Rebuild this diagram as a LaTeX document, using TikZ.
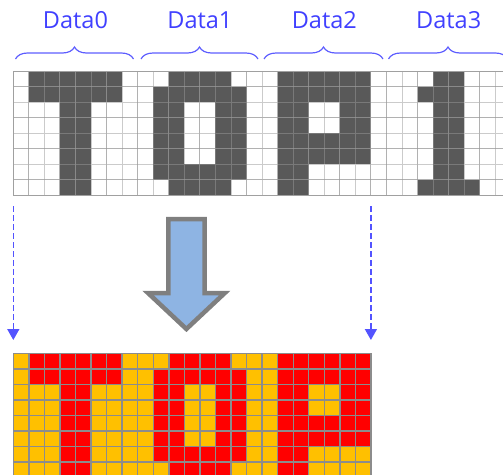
\documentclass[tikz,border=0pt]{standalone}
\usepackage{fontspec}
\setmainfont{Open Sans}
\usetikzlibrary{arrows.meta,decorations.pathreplacing}

\definecolor{pixdark}{HTML}{595959}
\definecolor{pixline}{HTML}{999999}
\definecolor{pixframe}{HTML}{A0A0A0}
\definecolor{ledred}{HTML}{FF0000}
\definecolor{ledamber}{HTML}{FFC000}
\definecolor{ledline}{HTML}{8C8C8C}
\definecolor{labelblue}{HTML}{4040FF}
\definecolor{arrowfill}{HTML}{8EB4E3}
\definecolor{arrowedge}{HTML}{7F7F7F}

\def\cell{15.55}
% 8x8 bitmaps, top row first
\def\glyphT{{0,1,1,1,1,1,1,0},{0,1,1,1,1,1,1,0},{0,0,0,1,1,0,0,0},{0,0,0,1,1,0,0,0},{0,0,0,1,1,0,0,0},{0,0,0,1,1,0,0,0},{0,0,0,1,1,0,0,0},{0,0,0,1,1,0,0,0}}
\def\glyphO{{0,0,1,1,1,1,0,0},{0,1,1,1,1,1,1,0},{0,1,1,0,0,1,1,0},{0,1,1,0,0,1,1,0},{0,1,1,0,0,1,1,0},{0,1,1,0,0,1,1,0},{0,1,1,1,1,1,1,0},{0,0,1,1,1,1,0,0}}
\def\glyphP{{0,1,1,1,1,1,1,0},{0,1,1,1,1,1,1,0},{0,1,1,0,0,1,1,0},{0,1,1,0,0,1,1,0},{0,1,1,1,1,1,1,0},{0,1,1,1,1,1,1,0},{0,1,1,0,0,0,0,0},{0,1,1,0,0,0,0,0}}
\def\glyphOne{{0,0,0,1,1,0,0,0},{0,0,1,1,1,0,0,0},{0,0,0,1,1,0,0,0},{0,0,0,1,1,0,0,0},{0,0,0,1,1,0,0,0},{0,0,0,1,1,0,0,0},{0,0,0,1,1,0,0,0},{0,0,1,1,1,1,0,0}}

% #1,#2 corner, #3 bitmap, #4 on colour, #5 off colour, #6 last column, #7 cell style
\newcommand\dotglyph[7]{%
  \foreach \row [count=\r from 0] in #3 {
    \foreach \bit [count=\c from 0] in \row {
      \ifnum\c>#6\relax\else
        \ifnum\bit=1 \def\cellcol{#4}\else\def\cellcol{#5}\fi
        \path[#7,fill=\cellcol] ({#1+\c*\cell},{#2+\r*\cell}) rectangle ++(\cell,\cell);
      \fi
    }
  }
}

\begin{document}
\begin{tikzpicture}[x=1pt,y=-1pt]
  \tikzstyle{topcell}=[draw=pixline,draw opacity=0.5,line width=1pt]
  \tikzstyle{ledcell}=[draw=ledline,line width=1.4pt]
  \tikzstyle{datalabel}=[text=labelblue,font=\fontsize{23.5}{28}\selectfont,inner sep=0pt]
  \tikzstyle{databrace}=[draw=labelblue!85,line width=1.2pt,decorate,decoration={brace,amplitude=12pt}]
  \tikzstyle{dasharrow}=[draw=labelblue!90,line width=1.6pt,dash pattern=on 5.5pt off 3.5pt,-{Triangle[width=12pt,length=11pt]}]
  \useasboundingbox (0,0) rectangle (503,474);
  \clip (0,0) rectangle (503,474);

  % source bitmap
  \dotglyph{13.3}{71}{\glyphT}{pixdark}{white}{7}{topcell}
  \dotglyph{137.7}{71}{\glyphO}{pixdark}{white}{7}{topcell}
  \dotglyph{262.1}{71}{\glyphP}{pixdark}{white}{7}{topcell}
  \dotglyph{386.5}{71}{\glyphOne}{pixdark}{white}{7}{topcell}
  \draw[pixframe,line width=1pt] (13.3,71) rectangle (510.9,195.4);

  % labels and braces
  \node[datalabel] (lbl0) at (75.5,20) {Data0};
  \node[datalabel] (lbl1) at (199.9,20) {Data1};
  \node[datalabel] (lbl2) at (324.3,20) {Data2};
  \node[datalabel] (lbl3) at (448.7,20) {Data3};
  \coordinate (br0a) at (15.5,59);  \coordinate (br0b) at (133.5,59);
  \coordinate (br1a) at (141,59);   \coordinate (br1b) at (258,59);
  \coordinate (br2a) at (264,59);   \coordinate (br2b) at (383,59);
  \coordinate (br3a) at (388.5,59); \coordinate (br3b) at (507.5,59);
  \draw[databrace] (br0a) -- (br0b);
  \draw[databrace] (br1a) -- (br1b);
  \draw[databrace] (br2a) -- (br2b);
  \draw[databrace] (br3a) -- (br3b);

  % window edges
  \coordinate (srcL) at (13.3,206);  \coordinate (dstL) at (13.3,340);
  \coordinate (srcR) at (370.9,206); \coordinate (dstR) at (370.9,340);
  \draw[dasharrow] (srcL) -- (dstL);
  \draw[dasharrow] (srcR) -- (dstR);

  % big arrow
  \draw[fill=arrowfill,draw=arrowedge,line width=4.5pt,miter limit=10]
    (168.3,219) -- (204.5,219) -- (204.5,293) -- (224.8,293) -- (186.4,329)
    -- (148,293) -- (168.3,293) -- cycle;

  % LED panel
  \dotglyph{13.3}{353.3}{\glyphT}{ledred}{ledamber}{7}{ledcell}
  \dotglyph{137.7}{353.3}{\glyphO}{ledred}{ledamber}{7}{ledcell}
  \dotglyph{262.1}{353.3}{\glyphP}{ledred}{ledamber}{6}{ledcell}
\end{tikzpicture}
\end{document}
